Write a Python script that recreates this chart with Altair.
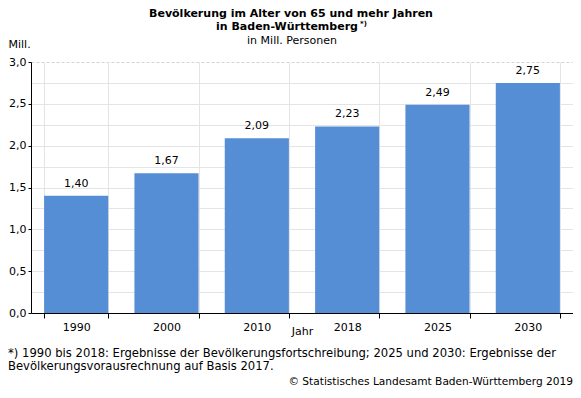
import altair as alt
import pandas as pd

jahre = ["1990", "2000", "2010", "2018", "2025", "2030"]
werte = [1.40, 1.67, 2.09, 2.23, 2.49, 2.75]
y_ticks = [0, 0.25, 0.5, 0.75, 1.0, 1.25, 1.5, 1.75, 2.0, 2.25, 2.5, 2.75, 3.0]

titel1 = "Bevölkerung im Alter von 65 und mehr Jahren"
titel2 = "in Baden-Württemberg"
titel2_sup = "*)"
untertitel = "in Mill. Personen"
fuss1 = "*) 1990 bis 2018: Ergebnisse der Bevölkerungsfortschreibung; 2025 und 2030: Ergebnisse der"
fuss2 = "Bevölkerungsvorausrechnung auf Basis 2017."
quelle = "© Statistisches Landesamt Baden-Württemberg 2019"

FONT = "DejaVu Sans"
df = pd.DataFrame({"Jahr": jahre, "Wert": werte})

base = alt.Chart(df).encode(
    x=alt.X(
        "Jahr:N",
        sort=jahre,
        scale=alt.Scale(paddingInner=0.29, paddingOuter=0.145),
        axis=alt.Axis(
            title="Jahr",
            labelAngle=0,
            tickBand="extent",
            grid=True,
            gridColor="#e4e4e4",
            domainColor="black",
            tickColor="black",
            tickSize=5,
            labelPadding=3,
            labelFont=FONT,
            labelFontSize=11,
            labelColor="black",
            titleFont=FONT,
            titleFontSize=11,
            titleFontWeight="normal",
            titleColor="black",
            titleBaseline="middle",
            titleY=18,
        ),
    ),
    y=alt.Y(
        "Wert:Q",
        scale=alt.Scale(domain=[0, 3], nice=False),
        axis=alt.Axis(
            title="Mill.",
            values=y_ticks,
            labelExpr="datum.value % 0.5 == 0 ? replace(format(datum.value, '.1f'), '.', ',') : ''",
            tickOpacity={"condition": {"test": "datum.value % 0.5 == 0", "value": 1}, "value": 0},
            gridOpacity={"condition": {"test": "datum.value >= 3", "value": 0}, "value": 1},
            labelOverlap=False,
            grid=True,
            gridColor="#e4e4e4",
            domainColor="black",
            tickColor="black",
            tickSize=3,
            labelPadding=2,
            labelFont=FONT,
            labelFontSize=11,
            labelColor="black",
            titleFont=FONT,
            titleFontSize=11,
            titleFontWeight="normal",
            titleColor="black",
            titleAngle=0,
            titleAlign="left",
            titleBaseline="middle",
            titleX=-23,
            titleY=-18,
        ),
    ),
)

bars = base.mark_bar(color="#558ed5")
labels = base.transform_calculate(
    label="replace(format(datum.Wert, '.2f'), '.', ',')"
).mark_text(font=FONT, fontSize=11, color="black", baseline="alphabetic", dy=-9).encode(
    text="label:N"
)

one = pd.DataFrame({"a": [0]})


def txt(s, x, y, **kw):
    return alt.Chart(one).mark_text(text=s, font=FONT, color="black", **kw).encode(
        x=alt.value(x), y=alt.value(y)
    )


texts = [
    txt(titel1, 260, -48, fontSize=11, fontWeight="bold", baseline="middle", align="center"),
    txt(titel2, 256, -35, fontSize=11, fontWeight="bold", baseline="middle", align="center"),
    txt(titel2_sup, 329, -38, fontSize=7, fontWeight="bold", baseline="middle", align="left"),
    txt(untertitel, 261, -21, fontSize=11, baseline="middle", align="center"),
    txt(fuss1, -23, 292, fontSize=11.6, baseline="middle", align="left"),
    txt(fuss2, -23, 305, fontSize=11.6, baseline="middle", align="left"),
    txt(quelle, 542, 320, fontSize=10.6, baseline="middle", align="right"),
]

chart = alt.layer(bars, labels, *texts).properties(
    width=542,
    height=251,
    autosize=alt.AutoSizeParams(type="none"),
    padding={"left": 23, "top": 54, "right": 0, "bottom": 77},
    background="white",
).configure_view(stroke="#d4d4d4", strokeDash=[3, 2])

chart.save("out.html", embed_options={"renderer": "svg", "actions": False})
